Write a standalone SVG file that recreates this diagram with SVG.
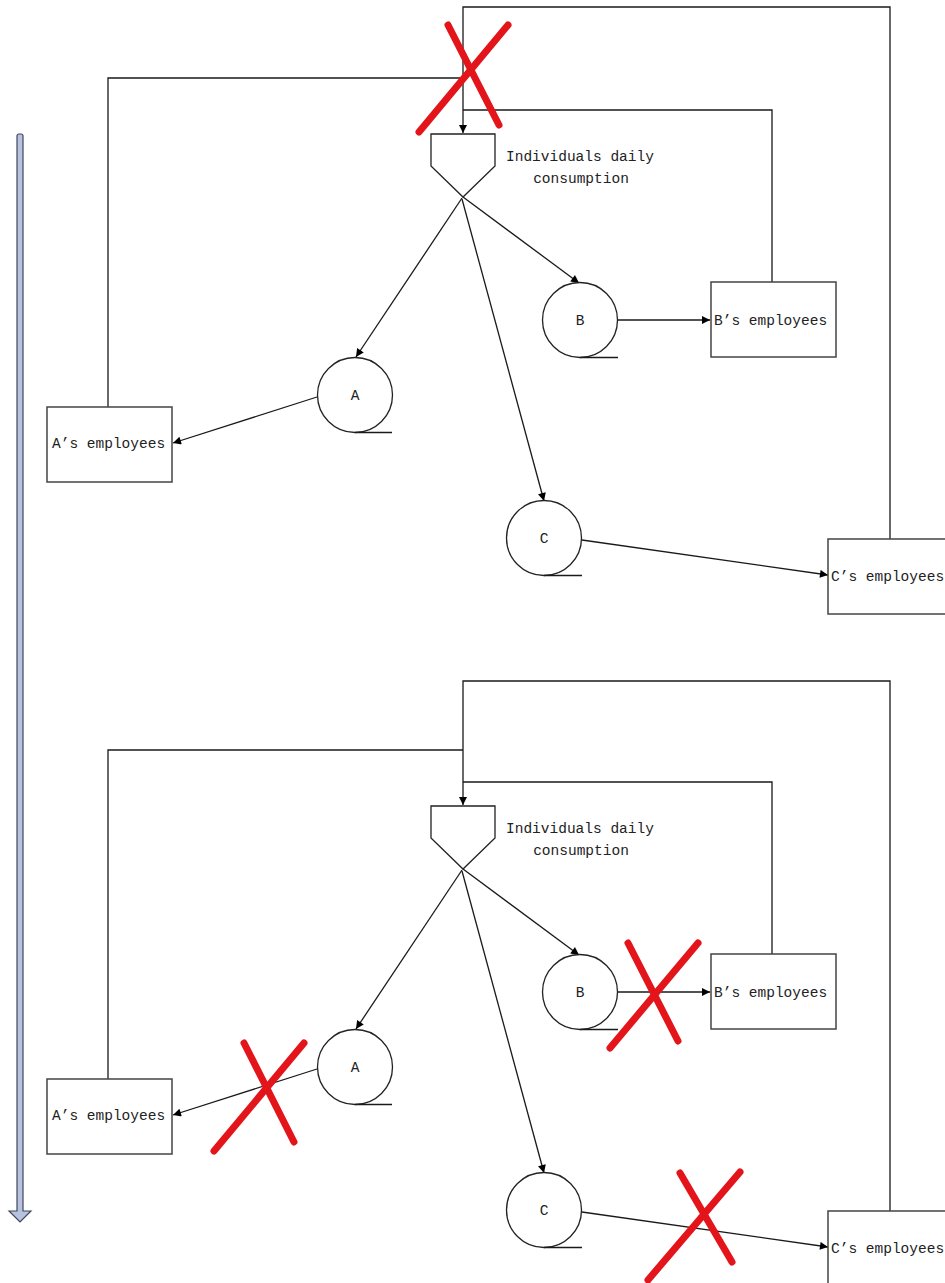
<svg xmlns="http://www.w3.org/2000/svg" width="945" height="1283" viewBox="0 0 945 1283">
<style>
.ln{fill:none;stroke:#1a1a1a;stroke-width:1.3}
.box{fill:#fff;stroke:#444;stroke-width:1.5}
.shape{fill:#fff;stroke:#222;stroke-width:1.3}
.t{font-family:"Liberation Mono","DejaVu Sans Mono",monospace;font-size:14.5px;fill:#222}
.c{text-anchor:middle}
.x{stroke:#e3151b;stroke-width:7;stroke-linecap:round;fill:none}
</style>
<defs>
<marker id="ah" viewBox="0 0 10 10" refX="10" refY="5" markerWidth="11" markerHeight="8" orient="auto" markerUnits="userSpaceOnUse"><path d="M0,0 L10,5 L0,10 z" fill="#000"/></marker>
</defs>
<rect width="945" height="1283" fill="#fff"/>

<g id="timeline">
<path d="M17,136 Q17,134 19,134 L21,134 Q23,134 23,136 L23,1211 L31,1211 L20,1222 L9,1211 L17,1211 Z" fill="#b7c2df" stroke="#3f465a" stroke-width="1.2"/>
</g>

<!-- TOP SCENARIO -->
<g id="top">
<g id="top-connectors">
<path class="ln" d="M890,539 L890,7 L463,7 L463,133" marker-end="url(#ah)"/>
<path class="ln" d="M108,407 L108,78 L463,78"/>
<path class="ln" d="M772,282 L772,110 L463,110"/>
<path class="ln" d="M462,198 L356,357" marker-end="url(#ah)"/>
<path class="ln" d="M463,197 L579,283" marker-end="url(#ah)"/>
<path class="ln" d="M462,199 L544,501" marker-end="url(#ah)"/>
<path class="ln" d="M617,320 L710,320" marker-end="url(#ah)"/>
<path class="ln" d="M317,397 L173,443" marker-end="url(#ah)"/>
<path class="ln" d="M582,540 L828,575" marker-end="url(#ah)"/>
</g>
<g id="top-funnel">
<polygon class="shape" points="431,134 495,134 495,166 463,197 431,166"/>
<text class="t" x="506" y="161">Individuals daily</text>
<text class="t c" x="581" y="183">consumption</text>
</g>
<g id="top-A">
<circle class="shape" cx="355" cy="395" r="37.5"/>
<line class="ln" x1="355" y1="432.5" x2="392" y2="432.5"/>
<text class="t c" x="355" y="400">A</text>
</g>
<g id="top-B">
<circle class="shape" cx="580" cy="320" r="37.5"/>
<line class="ln" x1="580" y1="357.5" x2="618" y2="357.5"/>
<text class="t c" x="580" y="325">B</text>
</g>
<g id="top-C">
<circle class="shape" cx="544" cy="538" r="37.5"/>
<line class="ln" x1="544" y1="575.5" x2="582" y2="575.5"/>
<text class="t c" x="544" y="543">C</text>
</g>
<g id="top-Aemp">
<rect class="box" x="47" y="407" width="125" height="75"/>
<text class="t" x="52" y="448">A’s employees</text>
</g>
<g id="top-Bemp">
<rect class="box" x="711" y="282" width="125" height="75"/>
<text class="t" x="714" y="325">B’s employees</text>
</g>
<g id="top-Cemp">
<rect class="box" x="828" y="539" width="140" height="75"/>
<text class="t" x="831" y="581">C’s employees</text>
</g>
<g id="top-cross">
<line class="x" x1="448" y1="25" x2="499" y2="125"/>
<line class="x" x1="508" y1="25" x2="419" y2="132"/>
</g>
</g>

<!-- BOTTOM SCENARIO -->
<g id="bottom" transform="translate(0,672)">
<g id="bottom-connectors">
<path class="ln" d="M890,539 L890,9 L463,9 L463,133" marker-end="url(#ah)"/>
<path class="ln" d="M108,407 L108,78 L463,78"/>
<path class="ln" d="M772,282 L772,110 L463,110"/>
<path class="ln" d="M462,198 L356,357" marker-end="url(#ah)"/>
<path class="ln" d="M463,197 L579,283" marker-end="url(#ah)"/>
<path class="ln" d="M462,199 L544,501" marker-end="url(#ah)"/>
<path class="ln" d="M617,320 L710,320" marker-end="url(#ah)"/>
<path class="ln" d="M317,397 L173,443" marker-end="url(#ah)"/>
<path class="ln" d="M582,540 L828,575" marker-end="url(#ah)"/>
</g>
<g id="bottom-funnel">
<polygon class="shape" points="431,134 495,134 495,166 463,197 431,166"/>
<text class="t" x="506" y="161">Individuals daily</text>
<text class="t c" x="581" y="183">consumption</text>
</g>
<g id="bottom-A">
<circle class="shape" cx="355" cy="395" r="37.5"/>
<line class="ln" x1="355" y1="432.5" x2="392" y2="432.5"/>
<text class="t c" x="355" y="400">A</text>
</g>
<g id="bottom-B">
<circle class="shape" cx="580" cy="320" r="37.5"/>
<line class="ln" x1="580" y1="357.5" x2="618" y2="357.5"/>
<text class="t c" x="580" y="325">B</text>
</g>
<g id="bottom-C">
<circle class="shape" cx="544" cy="538" r="37.5"/>
<line class="ln" x1="544" y1="575.5" x2="582" y2="575.5"/>
<text class="t c" x="544" y="543">C</text>
</g>
<g id="bottom-Aemp">
<rect class="box" x="47" y="407" width="125" height="75"/>
<text class="t" x="52" y="448">A’s employees</text>
</g>
<g id="bottom-Bemp">
<rect class="box" x="711" y="282" width="125" height="75"/>
<text class="t" x="714" y="325">B’s employees</text>
</g>
<g id="bottom-Cemp">
<rect class="box" x="828" y="539" width="140" height="75"/>
<text class="t" x="831" y="581">C’s employees</text>
</g>
</g>
<g id="bottom-crosses">
<line class="x" x1="244" y1="1043" x2="294" y2="1142"/>
<line class="x" x1="304" y1="1043" x2="214" y2="1151"/>
<line class="x" x1="628" y1="943" x2="678" y2="1041"/>
<line class="x" x1="698" y1="943" x2="610" y2="1048"/>
<line class="x" x1="680" y1="1173" x2="732" y2="1262"/>
<line class="x" x1="740" y1="1172" x2="648" y2="1280"/>
</g>
</svg>
